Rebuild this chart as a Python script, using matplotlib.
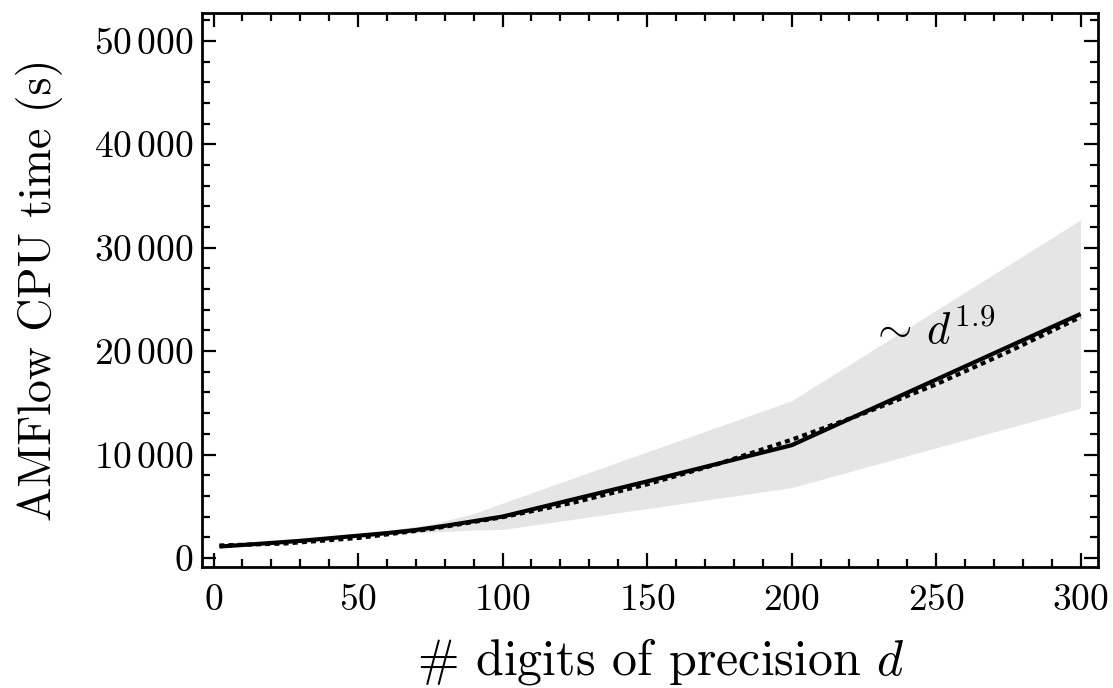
import numpy as np
import matplotlib
matplotlib.use('Agg')
import matplotlib.pyplot as plt
from matplotlib.ticker import MultipleLocator, FuncFormatter

plt.rcParams['font.family'] = 'serif'
plt.rcParams['font.serif'] = ['cmr10']
plt.rcParams['mathtext.fontset'] = 'cm'
plt.rcParams['axes.unicode_minus'] = False

# measured CPU time (solid line)
d_meas = [2, 10, 20, 30, 40, 50, 60, 70, 80, 90, 100, 150, 200, 300]
t_meas = [1100, 1250, 1450, 1650, 1900, 2150, 2400, 2700, 3100, 3550, 4000, 7400, 10900, 23600]

# spread band
d_band = [2, 25, 50, 75, 90, 100, 200, 300]
t_low  = [1050, 1400, 2050, 2500, 2700, 2750, 6800, 14500]
t_high = [1150, 1550, 2250, 3250, 4300, 5300, 15200, 32700]

# ~ d^1.9 fit (dashed)
d_fit = [2, 25, 50, 75, 100, 125, 150, 175, 200, 225, 250, 275, 300]
t_fit = [1200, 1400, 1930, 2790, 3940, 5380, 7120, 9130, 11430, 13980, 16790, 19940, 23300]

fig = plt.figure(figsize=(11.13, 6.88), dpi=100)
ax = fig.add_axes([0.1815, 0.176, 0.805, 0.805])

ax.fill_between(d_band, t_low, t_high, color='#e5e5e5', lw=0)
ax.plot(d_meas, t_meas, color='black', lw=3, solid_capstyle='butt')
ax.plot(d_fit, t_fit, color='black', lw=3, ls=(0, (1.2, 1.0)))

ax.text(227, 21900, r'$\sim\,d^{1.9}$', fontsize=32, va='center', ha='left')

ax.set_xlim(-4, 306)
ax.set_ylim(-870, 52700)

ax.xaxis.set_major_locator(MultipleLocator(50))
ax.xaxis.set_minor_locator(MultipleLocator(10))
ax.yaxis.set_major_locator(MultipleLocator(10000))
ax.yaxis.set_minor_locator(MultipleLocator(2000))

def fmt_y(v, pos):
    v = int(round(v))
    if v == 0:
        return r'$0$'
    return r'$%d\,%03d$' % (v // 1000, v % 1000)

ax.yaxis.set_major_formatter(FuncFormatter(fmt_y))
ax.xaxis.set_major_formatter(FuncFormatter(lambda v, p: r'$%d$' % int(round(v))))

ax.tick_params(which='both', direction='in', top=True, right=True, width=1.6, labelsize=27)
ax.tick_params(which='major', length=10)
ax.tick_params(which='minor', length=6)
ax.tick_params(axis='x', which='major', pad=12)
ax.tick_params(axis='y', which='major', pad=6)
for s in ax.spines.values():
    s.set_linewidth(2)

ax.set_xlabel(r'# digits of precision $d$', fontsize=36)
ax.set_ylabel('AMFlow CPU time (s)', fontsize=33, labelpad=22)
ax.xaxis.set_label_coords(0.512, -0.125)

fig.savefig('out.png', dpi=100)
